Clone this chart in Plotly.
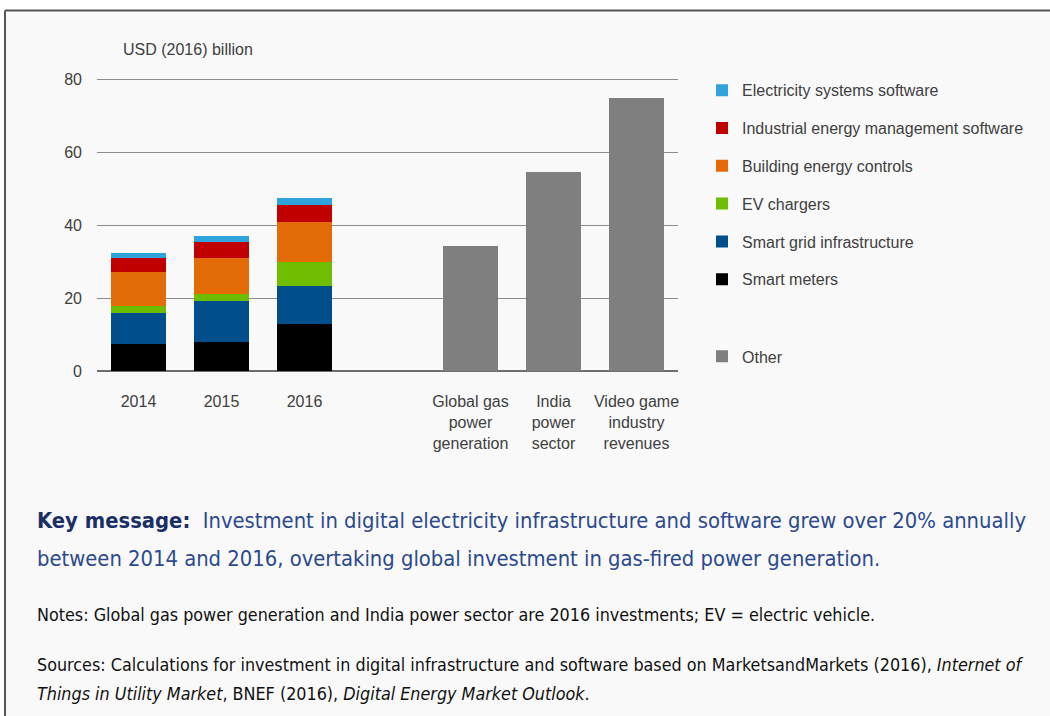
import plotly.graph_objects as go

years = ["2014", "2015", "2016"]
spacer = " "
other_cats = ["Global gas<br>power<br>generation", "India<br>power<br>sector", "Video game<br>industry<br>revenues"]

series_names = ["Smart meters", "Smart grid infrastructure", "EV chargers",
                "Building energy controls", "Industrial energy management software",
                "Electricity systems software"]
series_colors = ["#000000", "#004f8c", "#6fbd00", "#e36c09", "#c00000", "#2ea3dc"]
smart_meters = [7.3, 8.0, 12.8]
smart_grid = [8.7, 11.2, 10.6]
ev_chargers = [1.8, 1.8, 6.4]
building_controls = [9.4, 10.1, 11.1]
industrial_software = [3.7, 4.3, 4.6]
electricity_software = [1.6, 1.7, 2.1]
series_values = [smart_meters, smart_grid, ev_chargers, building_controls,
                 industrial_software, electricity_software]

other_values = [34.3, 54.6, 75.0]
y_ticks = [0, 20, 40, 60, 80]

FONT = "Liberation Sans, Arial, sans-serif"
BODY = "DejaVu Sans Condensed, Liberation Sans, sans-serif"

L, R, T, B = 97, 372, 78, 345
W, H = 1050, 716
PW, PH = W - L - R, H - T - B

fig = go.Figure()
fig.add_trace(go.Bar(x=other_cats, y=other_values, name="Other", marker_color="#7f7f7f",
                     marker_line_width=0, legend="legend2"))
for i, (nm, col, vals) in enumerate(zip(series_names, series_colors, series_values)):
    fig.add_trace(go.Bar(x=years, y=vals, name=nm, marker_color=col, marker_line_width=0,
                         legendgroup=f"g{i}", legendrank=100 - i))

fig.update_layout(
    width=W, height=H,
    barmode="stack", bargap=0.34,
    paper_bgcolor="#f9f9f9", plot_bgcolor="#f9f9f9",
    margin=dict(l=L, r=R, t=T, b=B, autoexpand=False),
    font=dict(family=FONT, size=16, color="#404040"),
    xaxis=dict(type="category", categoryorder="array",
               categoryarray=years + [spacer] + other_cats,
               showgrid=False, ticks="", showline=False, tickfont=dict(size=16),
               ticklabelstandoff=19),
    yaxis=dict(range=[0, 80.4], tickvals=y_ticks, showgrid=True, gridcolor="#8c8c8c",
               gridwidth=1, zeroline=True, zerolinecolor="#6e6e6e", zerolinewidth=2,
               ticks="", tickfont=dict(size=16), ticklabelstandoff=14),
    legend=dict(x=(702 - L) / PW, y=1.016, xanchor="left", yanchor="top", bgcolor="rgba(0,0,0,0)",
                traceorder="grouped", tracegroupgap=14, font=dict(size=16, color="#404040"),
                itemwidth=30),
    legend2=dict(x=(702 - L) / PW, y=0.108, xanchor="left", yanchor="top", bgcolor="rgba(0,0,0,0)",
                 font=dict(size=16, color="#404040"), itemwidth=30),
    showlegend=True,
)

def px_x(px):
    return (px - L) / PW

def px_y(py):
    return (H - B - py) / PH

# white margin outside the frame
fig.add_shape(type="rect", xref="paper", yref="paper", x0=px_x(-5), x1=px_x(1060),
              y0=px_y(10.5), y1=px_y(-5), fillcolor="#ffffff", line_width=0, layer="below")
fig.add_shape(type="rect", xref="paper", yref="paper", x0=px_x(-5), x1=px_x(5),
              y0=px_y(730), y1=px_y(-5), fillcolor="#ffffff", line_width=0, layer="below")
# frame lines (top and left)
fig.add_shape(type="line", xref="paper", yref="paper", x0=px_x(5), x1=px_x(1060),
              y0=px_y(10.5), y1=px_y(10.5), line=dict(color="#555555", width=2))
fig.add_shape(type="line", xref="paper", yref="paper", x0=px_x(5), x1=px_x(5),
              y0=px_y(10.5), y1=px_y(730), line=dict(color="#555555", width=2))

fig.add_annotation(x=px_x(121), y=px_y(50), xref="paper", yref="paper", xanchor="left",
                   yanchor="middle", showarrow=False, text="USD (2016) billion",
                   font=dict(size=16, color="#404040"))

fig.add_annotation(x=px_x(35), y=px_y(520), xref="paper", yref="paper", xanchor="left",
                   yanchor="middle", showarrow=False, align="left",
                   text="<b><span style='color:#1a2f66'>Key message:</span></b>  "
                        "Investment in digital electricity infrastructure and software grew over 20% annually",
                   font=dict(family=BODY, size=21.8, color="#2c4a8e"))
fig.add_annotation(x=px_x(35), y=px_y(558), xref="paper", yref="paper", xanchor="left",
                   yanchor="middle", showarrow=False, align="left",
                   text="between 2014 and 2016, overtaking global investment in gas-fired power generation.",
                   font=dict(family=BODY, size=21.8, color="#2c4a8e"))
fig.add_annotation(x=px_x(35), y=px_y(614), xref="paper", yref="paper", xanchor="left",
                   yanchor="middle", showarrow=False, align="left",
                   text="Notes: Global gas power generation and India power sector are 2016 investments; EV = electric vehicle.",
                   font=dict(family=BODY, size=17.8, color="#111111"))
fig.add_annotation(x=px_x(35), y=px_y(664), xref="paper", yref="paper", xanchor="left",
                   yanchor="middle", showarrow=False, align="left",
                   text="Sources: Calculations for investment in digital infrastructure and software based on MarketsandMarkets (2016), <i>Internet of</i>",
                   font=dict(family=BODY, size=17.8, color="#111111"))
fig.add_annotation(x=px_x(35), y=px_y(693), xref="paper", yref="paper", xanchor="left",
                   yanchor="middle", showarrow=False, align="left",
                   text="<i>Things in Utility Market</i>, BNEF (2016), <i>Digital Energy Market Outlook</i>.",
                   font=dict(family=BODY, size=17.8, color="#111111"))

fig.write_html("out.html", config={"displayModeBar": False},
               post_script="document.body.style.margin='0';document.body.style.background='#ffffff';")
